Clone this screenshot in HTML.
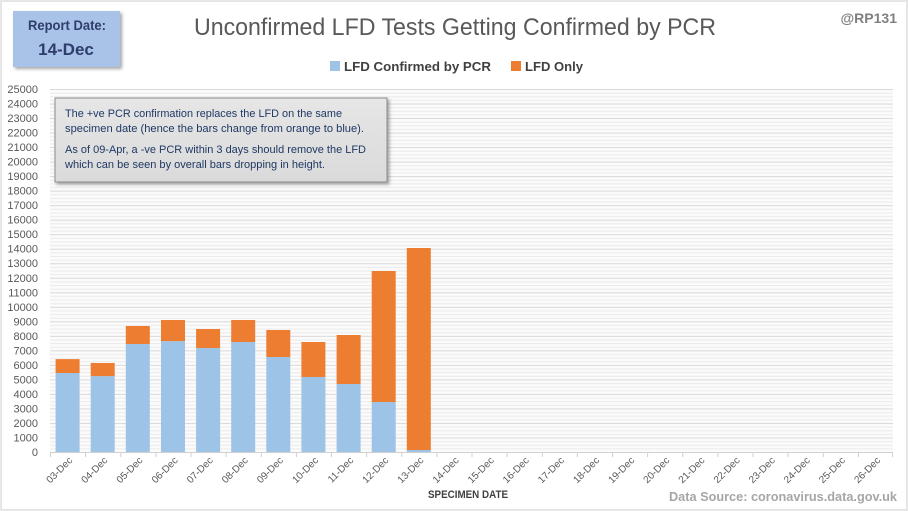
<!DOCTYPE html>
<html><head><meta charset="utf-8"><style>
html,body{margin:0;padding:0;background:#fff;}
svg{display:block;font-family:"Liberation Sans",sans-serif;}
</style></head><body>
<svg width="908" height="511" viewBox="0 0 908 511" xmlns="http://www.w3.org/2000/svg">
<defs>
<pattern id="grid" x="50" y="89" width="10" height="14.52" patternUnits="userSpaceOnUse">
<rect x="0" y="0" width="10" height="14.52" fill="#fbfbfb"/>
<rect x="0" y="0" width="10" height="1" fill="#d9d9d9"/>
<rect x="0" y="3.63" width="10" height="1" fill="#ebebeb"/>
<rect x="0" y="7.26" width="10" height="1" fill="#ebebeb"/>
<rect x="0" y="10.89" width="10" height="1" fill="#ebebeb"/>
</pattern>
<linearGradient id="boxg" x1="0" y1="0" x2="0" y2="1">
<stop offset="0" stop-color="#e6e6e6"/><stop offset="1" stop-color="#dadada"/>
</linearGradient>
<filter id="sh" x="-10%" y="-10%" width="130%" height="140%">
<feDropShadow dx="2" dy="2" stdDeviation="1.5" flood-color="#000" flood-opacity="0.35"/>
</filter>
</defs>
<rect x="0.5" y="0.5" width="907" height="510" fill="#fff" stroke="#d0d0d0" stroke-dasharray="1,1"/>
<rect x="1.5" y="1.5" width="905" height="508" fill="none" stroke="#e4e4e4"/>

<!-- report date box -->
<rect x="13" y="11" width="107" height="56" fill="#a9c3e8" filter="url(#sh)"/>
<text x="67" y="30" font-size="14" font-weight="bold" fill="#2e3d6b" text-anchor="middle" textLength="78" lengthAdjust="spacingAndGlyphs">Report Date:</text>
<text x="66" y="55" font-size="17" font-weight="bold" fill="#2e3d6b" text-anchor="middle">14-Dec</text>

<!-- title -->
<text x="194" y="35" font-size="24" fill="#595959" textLength="522" lengthAdjust="spacingAndGlyphs">Unconfirmed LFD Tests Getting Confirmed by PCR</text>
<text x="897" y="23" font-size="14" font-weight="bold" fill="#7f7f7f" text-anchor="end">@RP131</text>

<!-- legend -->
<rect x="330" y="61" width="10" height="10" fill="#9dc3e6"/>
<text x="344" y="71" font-size="13" font-weight="bold" fill="#404040" textLength="147" lengthAdjust="spacingAndGlyphs">LFD Confirmed by PCR</text>
<rect x="511" y="61" width="10" height="10" fill="#ed7d31"/>
<text x="525" y="71" font-size="13" font-weight="bold" fill="#404040" textLength="58" lengthAdjust="spacingAndGlyphs">LFD Only</text>

<!-- plot area grid -->
<rect x="50" y="89" width="843" height="363" fill="url(#grid)"/>

<!-- y labels -->
<g font-size="11" fill="#595959" text-anchor="end">
<text x="38" y="456">0</text>
<text x="38" y="441.5">1000</text>
<text x="38" y="427">2000</text>
<text x="38" y="412.4">3000</text>
<text x="38" y="397.9">4000</text>
<text x="38" y="383.4">5000</text>
<text x="38" y="368.9">6000</text>
<text x="38" y="354.4">7000</text>
<text x="38" y="339.8">8000</text>
<text x="38" y="325.3">9000</text>
<text x="38" y="310.8">10000</text>
<text x="38" y="296.3">11000</text>
<text x="38" y="281.8">12000</text>
<text x="38" y="267.2">13000</text>
<text x="38" y="252.7">14000</text>
<text x="38" y="238.2">15000</text>
<text x="38" y="223.7">16000</text>
<text x="38" y="209.2">17000</text>
<text x="38" y="194.6">18000</text>
<text x="38" y="180.1">19000</text>
<text x="38" y="165.6">20000</text>
<text x="38" y="151.1">21000</text>
<text x="38" y="136.6">22000</text>
<text x="38" y="122">23000</text>
<text x="38" y="107.5">24000</text>
<text x="38" y="93">25000</text>
</g>

<!-- bars -->
<g>
<rect x="55.6" y="373" width="24" height="79" fill="#9dc3e6"/><rect x="55.6" y="359.1" width="24" height="13.9" fill="#ed7d31"/>
<rect x="90.7" y="376.1" width="24" height="75.9" fill="#9dc3e6"/><rect x="90.7" y="363" width="24" height="13.1" fill="#ed7d31"/>
<rect x="125.8" y="344" width="24" height="108" fill="#9dc3e6"/><rect x="125.8" y="326" width="24" height="18" fill="#ed7d31"/>
<rect x="161" y="341.1" width="24" height="110.9" fill="#9dc3e6"/><rect x="161" y="320" width="24" height="21.1" fill="#ed7d31"/>
<rect x="196.1" y="348" width="24" height="104" fill="#9dc3e6"/><rect x="196.1" y="329" width="24" height="19" fill="#ed7d31"/>
<rect x="231.2" y="342" width="24" height="110" fill="#9dc3e6"/><rect x="231.2" y="320" width="24" height="22" fill="#ed7d31"/>
<rect x="266.3" y="357" width="24" height="95" fill="#9dc3e6"/><rect x="266.3" y="330" width="24" height="27" fill="#ed7d31"/>
<rect x="301.4" y="377" width="24" height="75" fill="#9dc3e6"/><rect x="301.4" y="342" width="24" height="35" fill="#ed7d31"/>
<rect x="336.6" y="384" width="24" height="68" fill="#9dc3e6"/><rect x="336.6" y="335" width="24" height="49" fill="#ed7d31"/>
<rect x="371.7" y="402" width="24" height="50" fill="#9dc3e6"/><rect x="371.7" y="271" width="24" height="131" fill="#ed7d31"/>
<rect x="406.8" y="450" width="24" height="2" fill="#9dc3e6"/><rect x="406.8" y="248" width="24" height="202" fill="#ed7d31"/>
</g>

<!-- x axis -->
<line x1="50" y1="452.5" x2="893" y2="452.5" stroke="#d0d0d0" stroke-width="1"/>
<g stroke="#d0d0d0" stroke-width="1">
<line x1="50.5" y1="452" x2="50.5" y2="457"/><line x1="85.6" y1="452" x2="85.6" y2="457"/><line x1="120.8" y1="452" x2="120.8" y2="457"/><line x1="155.9" y1="452" x2="155.9" y2="457"/><line x1="191" y1="452" x2="191" y2="457"/><line x1="226.1" y1="452" x2="226.1" y2="457"/><line x1="261.3" y1="452" x2="261.3" y2="457"/><line x1="296.4" y1="452" x2="296.4" y2="457"/><line x1="331.5" y1="452" x2="331.5" y2="457"/><line x1="366.6" y1="452" x2="366.6" y2="457"/><line x1="401.8" y1="452" x2="401.8" y2="457"/><line x1="436.9" y1="452" x2="436.9" y2="457"/><line x1="472" y1="452" x2="472" y2="457"/><line x1="507.1" y1="452" x2="507.1" y2="457"/><line x1="542.3" y1="452" x2="542.3" y2="457"/><line x1="577.4" y1="452" x2="577.4" y2="457"/><line x1="612.5" y1="452" x2="612.5" y2="457"/><line x1="647.6" y1="452" x2="647.6" y2="457"/><line x1="682.8" y1="452" x2="682.8" y2="457"/><line x1="717.9" y1="452" x2="717.9" y2="457"/><line x1="753" y1="452" x2="753" y2="457"/><line x1="788.1" y1="452" x2="788.1" y2="457"/><line x1="823.3" y1="452" x2="823.3" y2="457"/><line x1="858.4" y1="452" x2="858.4" y2="457"/><line x1="892.5" y1="452" x2="892.5" y2="457"/>
</g>

<!-- x labels -->
<g font-size="10" fill="#595959" text-anchor="end">
<text transform="translate(73,461) rotate(-45)">03-Dec</text>
<text transform="translate(108.1,461) rotate(-45)">04-Dec</text>
<text transform="translate(143.2,461) rotate(-45)">05-Dec</text>
<text transform="translate(178.4,461) rotate(-45)">06-Dec</text>
<text transform="translate(213.5,461) rotate(-45)">07-Dec</text>
<text transform="translate(248.6,461) rotate(-45)">08-Dec</text>
<text transform="translate(283.7,461) rotate(-45)">09-Dec</text>
<text transform="translate(318.9,461) rotate(-45)">10-Dec</text>
<text transform="translate(354,461) rotate(-45)">11-Dec</text>
<text transform="translate(389.1,461) rotate(-45)">12-Dec</text>
<text transform="translate(424.2,461) rotate(-45)">13-Dec</text>
<text transform="translate(459.4,461) rotate(-45)">14-Dec</text>
<text transform="translate(494.5,461) rotate(-45)">15-Dec</text>
<text transform="translate(529.6,461) rotate(-45)">16-Dec</text>
<text transform="translate(564.7,461) rotate(-45)">17-Dec</text>
<text transform="translate(599.9,461) rotate(-45)">18-Dec</text>
<text transform="translate(635,461) rotate(-45)">19-Dec</text>
<text transform="translate(670.1,461) rotate(-45)">20-Dec</text>
<text transform="translate(705.2,461) rotate(-45)">21-Dec</text>
<text transform="translate(740.4,461) rotate(-45)">22-Dec</text>
<text transform="translate(775.5,461) rotate(-45)">23-Dec</text>
<text transform="translate(810.6,461) rotate(-45)">24-Dec</text>
<text transform="translate(845.7,461) rotate(-45)">25-Dec</text>
<text transform="translate(880.9,461) rotate(-45)">26-Dec</text>
</g>

<text x="428" y="498" font-size="11" font-weight="bold" fill="#404040" textLength="80" lengthAdjust="spacingAndGlyphs">SPECIMEN DATE</text>
<text x="669" y="501" font-size="13" font-weight="bold" fill="#a6a6a6" textLength="228" lengthAdjust="spacingAndGlyphs">Data Source: coronavirus.data.gov.uk</text>

<!-- annotation box -->
<rect x="55" y="98" width="332" height="84" fill="url(#boxg)" stroke="#8c8c8c" stroke-width="1" filter="url(#sh)"/>
<g font-size="11" fill="#1f3864">
<text x="65" y="117" textLength="277" lengthAdjust="spacingAndGlyphs">The +ve PCR confirmation replaces the LFD on the same</text>
<text x="65" y="132" textLength="299" lengthAdjust="spacingAndGlyphs">specimen date (hence the bars change from orange to blue).</text>
<text x="65" y="153" textLength="301" lengthAdjust="spacingAndGlyphs">As of 09-Apr, a -ve PCR within 3 days should remove the LFD</text>
<text x="65" y="168" textLength="260" lengthAdjust="spacingAndGlyphs">which can be seen by overall bars dropping  in height.</text>
</g>
</svg>
</body></html>
